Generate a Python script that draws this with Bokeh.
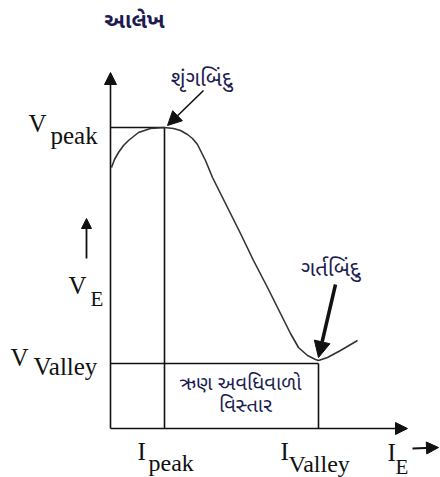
from bokeh.plotting import figure
from bokeh.models import Range1d, Arrow, NormalHead, Label
from bokeh.embed import file_html
from bokeh.resources import INLINE

# ---- data (schematic units: I along x, V along y) ----
I_PEAK = 54
V_PEAK = 301
I_VALLEY = 208
V_VALLEY = 65
I_AXIS_MAX = 297
V_AXIS_MAX = 356

curve_i = [1, 4, 8, 13, 18, 28, 40, 54, 63, 70, 77, 82, 87, 90, 95, 102, 117, 130, 143, 157, 170, 180, 188, 197, 205, 208, 217, 230, 247]
curve_v = [261, 269, 276, 283, 288, 296, 300, 301, 300, 298, 294, 290, 284, 278, 268, 251, 221, 195, 168, 141, 115, 95, 81, 73, 69, 68, 71, 78, 88]

title_text = "આલેખ"
peak_text = "શૃંગબિંદુ"
valley_text = "ગર્તબિંદુ"
region_lines = ["ઋણ અવધિવાળો", "વિસ્તાર"]

# page-pixel helpers for layout (origin of axes at page (110, 428))
OX, OY = 110, 428
def X(px):
    return px - OX
def Y(py):
    return OY - py

W, H = 440, 477
p = figure(width=W, height=H, output_backend="svg", toolbar_location=None,
           x_range=Range1d(X(0), X(W)), y_range=Range1d(Y(H), Y(0)),
           min_border=0, min_border_left=0, min_border_right=0,
           min_border_top=0, min_border_bottom=0)
p.axis.visible = False
p.grid.visible = False
p.outline_line_color = None
p.background_fill_color = "white"
p.border_fill_color = "white"

BLK = "#111111"

# axes with arrow heads
p.add_layout(Arrow(end=NormalHead(size=12, fill_color=BLK, line_color=BLK),
                   x_start=0, y_start=0, x_end=0, y_end=V_AXIS_MAX,
                   line_width=1.6, line_color=BLK))
p.add_layout(Arrow(end=NormalHead(size=12, fill_color=BLK, line_color=BLK),
                   x_start=0, y_start=0, x_end=I_AXIS_MAX, y_end=0,
                   line_width=1.6, line_color=BLK))

# guide lines
p.line([0, I_PEAK], [V_PEAK, V_PEAK], line_color=BLK, line_width=1.6)
p.line([I_PEAK, I_PEAK], [0, V_PEAK], line_color=BLK, line_width=1.6)
p.line([0, I_VALLEY], [V_VALLEY, V_VALLEY], line_color=BLK, line_width=1.6)
p.line([I_VALLEY, I_VALLEY], [0, V_VALLEY], line_color=BLK, line_width=1.6)

# characteristic curve
p.line(curve_i, curve_v, line_color="#333333", line_width=1.6, line_join="round")

# pointer arrows
p.add_layout(Arrow(end=NormalHead(size=14, fill_color=BLK, line_color=BLK),
                   x_start=X(203), y_start=Y(90), x_end=I_PEAK + 3, y_end=V_PEAK + 2,
                   line_width=1.6, line_color=BLK))
p.add_layout(Arrow(end=NormalHead(size=16, fill_color=BLK, line_color=BLK),
                   x_start=X(335), y_start=Y(284), x_end=I_VALLEY, y_end=V_VALLEY + 6,
                   line_width=3.5, line_color=BLK))
# V_E and I_E direction arrows
p.add_layout(Arrow(end=NormalHead(size=10, fill_color=BLK, line_color=BLK),
                   x_start=X(86), y_start=Y(258), x_end=X(86), y_end=Y(218),
                   line_width=1.8, line_color=BLK))
p.add_layout(Arrow(end=NormalHead(size=12, fill_color=BLK, line_color=BLK),
                   x_start=X(412), y_start=Y(448), x_end=X(438), y_end=Y(447),
                   line_width=1.8, line_color=BLK))

SERIF = "Liberation Serif"
GUJ = "Noto Sans Gujarati, Noto Sans, sans-serif"
GCOL = "#1c1c50"

def lab(txt, px, py, size, font=SERIF, align="left", baseline="alphabetic", color=BLK, style="normal"):
    p.add_layout(Label(x=X(px), y=Y(py), text=txt, text_font=font,
                       text_font_size=f"{size}px", text_align=align,
                       text_baseline=baseline, text_color=color,
                       text_font_style=style))

LS = 25
# Latin labels (main letter + subscript)
lab("V", 28, 123, LS)
lab("peak", 50, 135, LS)
lab("V", 68, 285, LS)
lab("E", 90, 298, 21)
lab("V", 10, 357, LS)
lab("Valley", 33, 366, LS)
lab("I", 137, 451, LS)
lab("peak", 148, 462, 24)
lab("I", 280, 451, LS)
lab("Valley", 288, 463, 24)
lab("I", 387, 452, LS)
lab("E", 395, 466, 21)

# Gujarati labels
lab(title_text, 134, 22, 22, font=GUJ, align="center", baseline="middle", color=GCOL, style="bold")
lab(peak_text, 201, 80, 22, font=GUJ, align="center", baseline="middle", color=GCOL)
lab(valley_text, 330, 270, 22, font=GUJ, align="center", baseline="middle", color=GCOL)
lab(region_lines[0], 240, 384, 20, font=GUJ, align="center", baseline="middle", color=GCOL)
lab(region_lines[1], 245, 406, 20, font=GUJ, align="center", baseline="middle", color=GCOL)

open("out.html", "w").write(file_html(p, INLINE))
